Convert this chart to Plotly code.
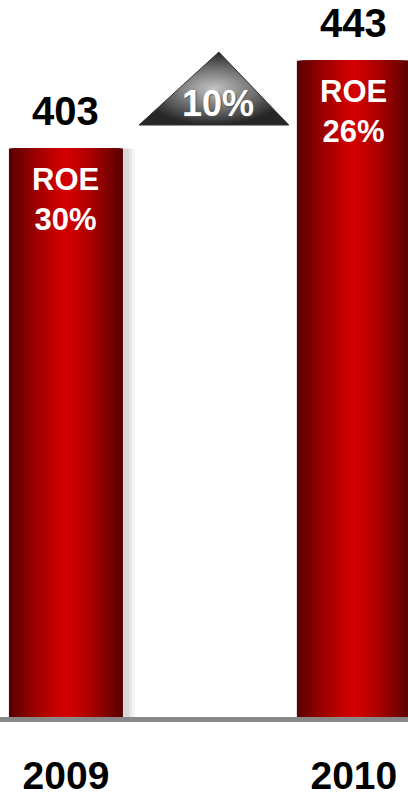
import plotly.graph_objects as go

# Net income by year with return on equity
years = ["2009", "2010"]
income = [403, 443]
roe = ["30%", "26%"]

growth = round((income[1] - income[0]) / income[0] * 100)

FONT = "Liberation Sans, Arial, sans-serif"
BAR_W = 0.396
X_RANGE = [-0.229, 1.188]
Y_RANGE = [144.3, 470.6]

def lerp(a, b, t):
    return tuple(int(round(a[i] + (b[i] - a[i]) * t)) for i in range(3))

dark = (88, 0, 0)
bright = (212, 0, 0)

fig = go.Figure()

# soft drop shadow behind each bar
for k, a in enumerate([0.035, 0.05, 0.07]):
    extra = 0.03 - k * 0.01
    fig.add_trace(go.Bar(
        x=years, y=income, width=BAR_W + extra,
        offset=-BAR_W / 2 + 0.012,
        marker=dict(color=f"rgba(0,0,0,{a})", line=dict(width=0)),
        hoverinfo="skip", showlegend=False,
    ))

# horizontal red gradient built from nested bars, darkest at the edges
N = 40
for i in range(N):
    t = 1 - i / N
    col = lerp(bright, dark, t ** 1.3)
    fig.add_trace(go.Bar(
        x=years, y=income, width=BAR_W * (1 - i / N),
        marker=dict(color="rgb(%d,%d,%d)" % col, line=dict(width=0)),
        hoverinfo="skip", showlegend=False,
    ))

# growth arrow between the bars (drawn on a linear twin of the category axis)
cx, hw = 0.514, 0.26
y_base, y_apex = 413.7, 446.9
fig.add_trace(go.Scatter(
    x=[cx - hw, cx + 0.017, cx + hw, cx - hw],
    y=[y_base, y_apex, y_base, y_base],
    xaxis="x2",
    mode="lines", fill="toself",
    line=dict(width=1, color="#333333"),
    fillgradient=dict(type="radial",
                      colorscale=[[0, "#c4c4c4"], [0.55, "#707070"], [1, "#262626"]]),
    hoverinfo="skip", showlegend=False,
))

annotations = []
for idx, (v, r) in enumerate(zip(income, roe)):
    annotations.append(dict(
        x=idx, y=v, xref="x", yref="y", text=f"<b>{v}</b>", showarrow=False,
        yanchor="bottom", yshift=14,
        font=dict(family=FONT, size=40, color="black"),
    ))
    annotations.append(dict(
        x=idx, y=v, xref="x", yref="y", text=f"<b>ROE<br>{r}</b>", showarrow=False,
        yanchor="top", yshift=-11,
        font=dict(family=FONT, size=31, color="white"),
    ))
annotations.append(dict(
    x=cx + 0.015, y=423.3, xref="x2", yref="y", text=f"<b>{growth}%</b>", showarrow=False,
    font=dict(family=FONT, size=36, color="white", shadow="1px 1px 1px #555"),
))

fig.update_layout(
    width=408, height=799,
    margin=dict(l=0, r=0, t=0, b=82),
    paper_bgcolor="white", plot_bgcolor="white",
    barmode="overlay",
    annotations=annotations,
    xaxis=dict(
        type="category", range=X_RANGE, automargin=False,
        showgrid=False, zeroline=False,
        showline=True, linecolor="#888888", linewidth=5,
        ticks="", ticklabelstandoff=20,
        tickfont=dict(family=FONT, size=39, color="black", weight="bold"),
    ),
    xaxis2=dict(type="linear", range=X_RANGE, overlaying="x", visible=False),
    yaxis=dict(range=Y_RANGE, visible=False, showgrid=False, zeroline=False),
)

fig.write_html("out.html")
